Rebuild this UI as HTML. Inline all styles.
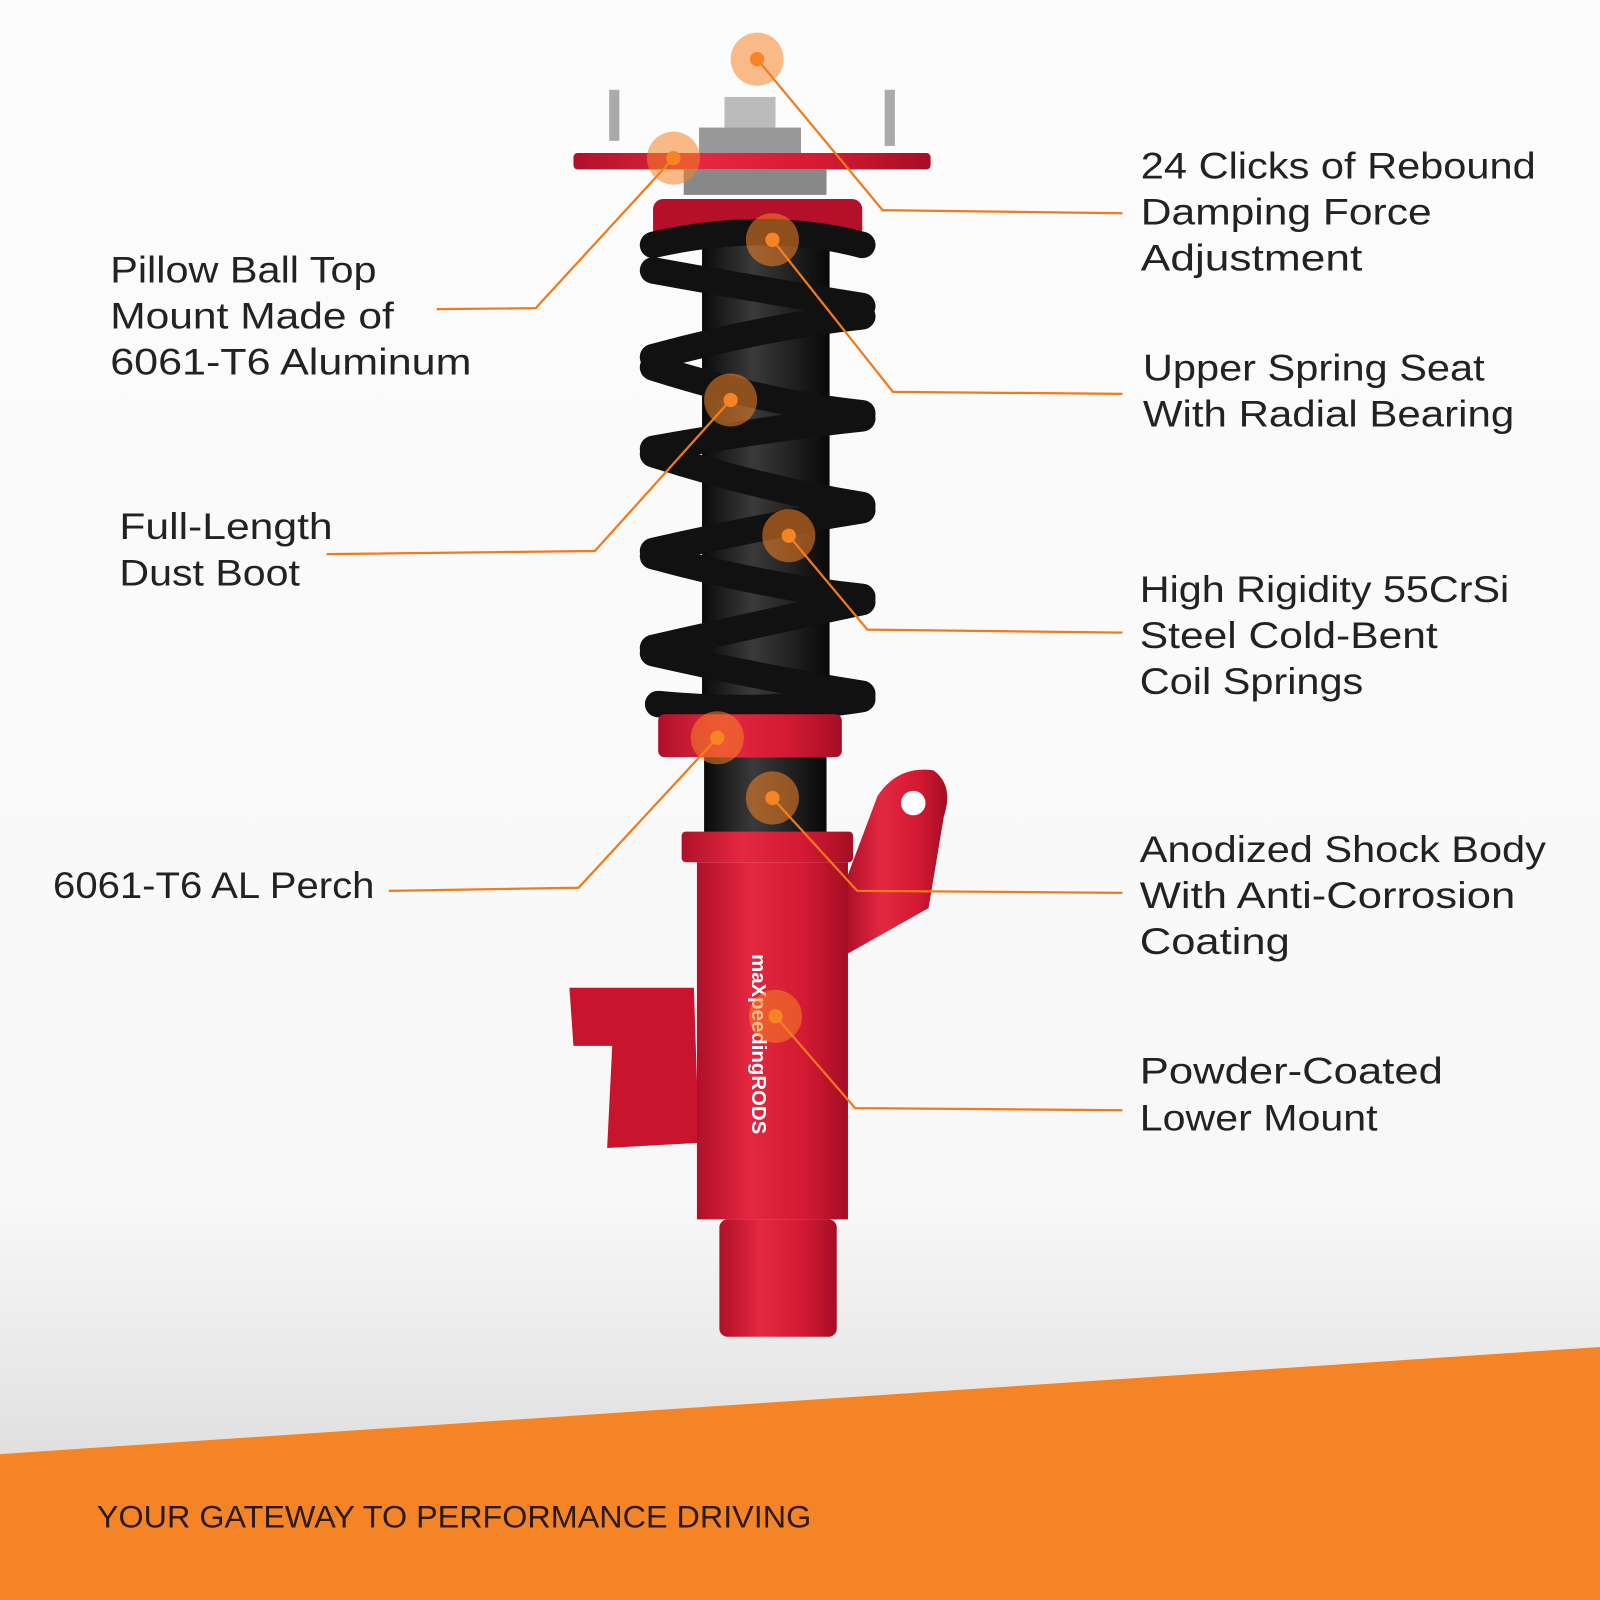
<!DOCTYPE html>
<html><head><meta charset="utf-8"><style>
html,body{margin:0;padding:0;background:#fff}
svg{display:block}
text{font-family:"Liberation Sans",sans-serif;fill:#222}
</style></head><body>
<svg width="1600" height="1600" viewBox="0 0 1568 1568" xmlns="http://www.w3.org/2000/svg">
<defs>
<linearGradient id="bg" x1="0" y1="0" x2="0" y2="1">
<stop offset="0" stop-color="#fcfcfc"/><stop offset="0.75" stop-color="#f8f8f8"/><stop offset="0.86" stop-color="#e8e8e8"/><stop offset="1" stop-color="#d0d0d0"/>
</linearGradient>
<linearGradient id="red" x1="0" y1="0" x2="1" y2="0">
<stop offset="0" stop-color="#b0102a"/><stop offset="0.35" stop-color="#e32840"/><stop offset="0.7" stop-color="#d41a33"/><stop offset="1" stop-color="#a50d25"/>
</linearGradient>
<linearGradient id="blk" x1="0" y1="0" x2="1" y2="0">
<stop offset="0" stop-color="#0a0a0a"/><stop offset="0.4" stop-color="#3a3a3a"/><stop offset="1" stop-color="#080808"/>
</linearGradient>
</defs>
<rect width="1568" height="1568" fill="url(#bg)"/>
<polygon points="0,1425 1568,1320 1568,1568 0,1568" fill="#f58426"/>
<text x="95" y="1497" font-size="31" textLength="700" lengthAdjust="spacingAndGlyphs" style="fill:#2a1a10">YOUR GATEWAY TO PERFORMANCE DRIVING</text>

<rect x="597" y="88" width="10" height="50" fill="#aaa"/>
<rect x="867" y="88" width="10" height="55" fill="#aaa"/>
<rect x="710" y="95" width="50" height="30" fill="#bbb"/>
<rect x="685" y="125" width="100" height="30" fill="#999"/>
<rect x="562" y="150" width="350" height="16" rx="4" fill="url(#red)"/>
<rect x="670" y="166" width="140" height="25" fill="#888"/>
<rect x="640" y="195" width="205" height="40" rx="10" fill="#b5102a"/>
<rect x="688" y="230" width="125" height="470" fill="url(#blk)"/>
<g fill="none" stroke="#111" stroke-width="26" stroke-linecap="round">
<path d="M640 240 Q750 215 845 240"/>
<path d="M640 265 Q750 285 845 300"/>
<path d="M640 350 Q750 320 845 310"/>
<path d="M640 360 Q750 395 845 405"/>
<path d="M640 440 Q750 420 845 410"/>
<path d="M640 445 Q750 480 845 495"/>
<path d="M640 540 Q750 515 845 500"/>
<path d="M640 545 Q750 575 845 585"/>
<path d="M640 635 Q750 610 845 590"/>
<path d="M640 640 Q750 665 845 680"/>
<path d="M645 690 Q750 700 845 685"/>
</g>
<rect x="645" y="700" width="180" height="42" rx="6" fill="url(#red)"/>
<rect x="690" y="742" width="120" height="75" fill="url(#blk)"/>
<rect x="668" y="815" width="168" height="30" rx="4" fill="url(#red)"/>
<path d="M830 860 L860 780 Q880 750 915 755 Q935 770 925 800 L910 890 L830 935 Z" fill="url(#red)"/>
<circle cx="895" cy="787" r="12" fill="#fff"/>
<path d="M558 968 L680 968 L685 1120 L595 1125 L600 1025 L562 1025 Z" fill="#c8142d"/>
<rect x="683" y="845" width="148" height="350" fill="url(#red)"/>
<rect x="705" y="1195" width="115" height="115" rx="8" fill="url(#red)"/>
<text transform="translate(737 935) rotate(90)" font-size="20" font-weight="bold" style="fill:#fff">maXpeedingRODS</text>

<g stroke="#f07a1c" stroke-width="2.2" fill="none">
<polyline points="742,58 865,206 1100,209"/>
<polyline points="660,155 525,302 428,303"/>
<polyline points="757,235 875,384 1100,386"/>
<polyline points="716,392 583,540 320,543"/>
<polyline points="773,525 850,617 1100,620"/>
<polyline points="703,723 567,870 381,873"/>
<polyline points="757,782 840,873 1100,875"/>
<polyline points="760,996 838,1086 1100,1088"/>
</g>
<g fill="#f58426">
<g opacity="0.55">
<circle cx="742" cy="58" r="26"/><circle cx="660" cy="155" r="26"/><circle cx="757" cy="235" r="26"/>
<circle cx="716" cy="392" r="26"/><circle cx="773" cy="525" r="26"/><circle cx="703" cy="723" r="26"/>
<circle cx="757" cy="782" r="26"/><circle cx="760" cy="996" r="26"/>
</g>
<circle cx="742" cy="58" r="7"/><circle cx="660" cy="155" r="7"/><circle cx="757" cy="235" r="7"/>
<circle cx="716" cy="392" r="7"/><circle cx="773" cy="525" r="7"/><circle cx="703" cy="723" r="7"/>
<circle cx="757" cy="782" r="7"/><circle cx="760" cy="996" r="7"/>
</g>

<g font-size="36" lengthAdjust="spacingAndGlyphs">
<text x="1118" y="175" textLength="387" lengthAdjust="spacingAndGlyphs">24 Clicks of Rebound</text>
<text x="1118" y="220" textLength="285" lengthAdjust="spacingAndGlyphs">Damping Force</text>
<text x="1118" y="265" textLength="217" lengthAdjust="spacingAndGlyphs">Adjustment</text>
<text x="108" y="277" textLength="261" lengthAdjust="spacingAndGlyphs">Pillow Ball Top</text>
<text x="108" y="322" textLength="278" lengthAdjust="spacingAndGlyphs">Mount Made of</text>
<text x="108" y="367" textLength="354" lengthAdjust="spacingAndGlyphs">6061-T6 Aluminum</text>
<text x="1120" y="373" textLength="335" lengthAdjust="spacingAndGlyphs">Upper Spring Seat</text>
<text x="1120" y="418" textLength="364" lengthAdjust="spacingAndGlyphs">With Radial Bearing</text>
<text x="117" y="528" textLength="209" lengthAdjust="spacingAndGlyphs">Full-Length</text>
<text x="117" y="574" textLength="177" lengthAdjust="spacingAndGlyphs">Dust Boot</text>
<text x="1117" y="590" textLength="362" lengthAdjust="spacingAndGlyphs">High Rigidity 55CrSi</text>
<text x="1117" y="635" textLength="292" lengthAdjust="spacingAndGlyphs">Steel Cold-Bent</text>
<text x="1117" y="680" textLength="219" lengthAdjust="spacingAndGlyphs">Coil Springs</text>
<text x="52" y="880" textLength="315" lengthAdjust="spacingAndGlyphs">6061-T6 AL Perch</text>
<text x="1117" y="845" textLength="398" lengthAdjust="spacingAndGlyphs">Anodized Shock Body</text>
<text x="1117" y="890" textLength="368" lengthAdjust="spacingAndGlyphs">With Anti-Corrosion</text>
<text x="1117" y="935" textLength="147" lengthAdjust="spacingAndGlyphs">Coating</text>
<text x="1117" y="1062" textLength="297" lengthAdjust="spacingAndGlyphs">Powder-Coated</text>
<text x="1117" y="1108" textLength="233" lengthAdjust="spacingAndGlyphs">Lower Mount</text>
</g>
</svg>
</body></html>
